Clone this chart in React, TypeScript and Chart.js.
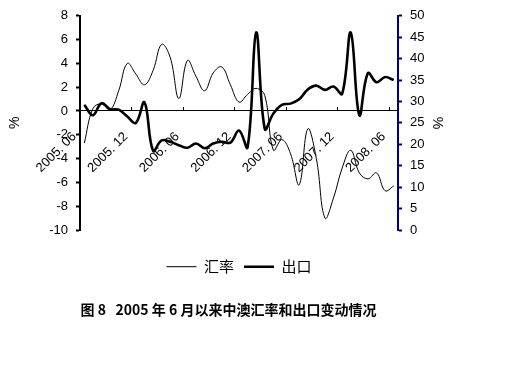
import React, { useEffect, useRef } from "react";
import { Chart, registerables } from "chart.js";

Chart.register(...registerables);

const categories = [
  "2005.06", "2005.07", "2005.08", "2005.09", "2005.10", "2005.11", "2005.12",
  "2006.01", "2006.02", "2006.03", "2006.04", "2006.05", "2006.06",
  "2006.07", "2006.08", "2006.09", "2006.10", "2006.11", "2006.12",
  "2007.01", "2007.02", "2007.03", "2007.04", "2007.05", "2007.06",
  "2007.07", "2007.08", "2007.09", "2007.10", "2007.11", "2007.12",
  "2008.01", "2008.02", "2008.03", "2008.04", "2008.05", "2008.06",
];

const shownTicks = ["2005.06", "2005.12", "2006.06", "2006.12", "2007.06", "2007.12", "2008.06"];

// 汇率 (left axis, %)
const rateValues = [
  -2.7, 0.2, 0.6, 0.1, 1.7, 4.0, 3.1, 2.2, 3.4, 5.6, 4.5, 1.05, 4.25,
  2.9, 1.7, 3.2, 3.7, 2.2, 0.75, 1.4, 1.9, 1.3, -3.3, -2.4, -3.6,
  -6.2, -1.5, -4.0, -9.0, -7.3, -4.8, -3.3, -5.2, -5.7, -5.2, -6.7, -6.3,
];

// 出口 (right axis, %)
const exportValues = [
  29.2, 26.8, 29.6, 28.2, 28.1, 26.5, 25.0, 29.8, 18.5, 20.9, 20.6, 19.8, 19.2,
  20.2, 19.1, 20.2, 20.6, 20.4, 23.2, 19.3, 46.1, 23.6, 27.2, 29.2, 29.5,
  30.5, 32.8, 33.7, 32.7, 33.5, 31.8, 46.1, 26.8, 36.6, 34.5, 35.7, 35.0,
];

const leftMin = -10;
const leftMax = 8;
const leftStep = 2;
const rightMin = 0;
const rightMax = 50;
const rightStep = 5;

const seriesNames = ["汇率", "出口"];
const caption = "图 8   2005 年 6 月以来中澳汇率和出口变动情况";

const latin = "'Liberation Sans', Arial, sans-serif";
const cjk = "'Noto Sans CJK SC', 'Liberation Sans', sans-serif";

export default function App() {
  const ref = useRef<HTMLCanvasElement | null>(null);

  useEffect(() => {
    if (!ref.current) return;
    const chart = new Chart(ref.current, {
      type: "line",
      data: {
        labels: categories,
        datasets: [
          {
            label: seriesNames[0],
            data: rateValues,
            yAxisID: "y",
            borderColor: "#000",
            backgroundColor: "#000",
            borderWidth: 1,
            pointRadius: 0,
            tension: 0.4,
            fill: false,
          },
          {
            label: seriesNames[1],
            data: exportValues,
            yAxisID: "y1",
            borderColor: "#000",
            backgroundColor: "#000",
            borderWidth: 2.6,
            pointRadius: 0,
            tension: 0.4,
            fill: false,
          },
        ],
      },
      options: {
        animation: false,
        responsive: false,
        maintainAspectRatio: false,
        layout: { padding: { left: 0, right: 55, top: 15, bottom: 0 } },
        scales: {
          x: {
            type: "category",
            position: { y: 0 } as any,
            offset: true,
            grid: {
              offset: true,
              drawOnChartArea: false,
              drawTicks: true,
              tickLength: -4,
              lineWidth: 1,
              color: (c: any) =>
                c.index !== undefined && c.index > 0 && c.index % 6 === 0 ? "#000" : "rgba(0,0,0,0)",
            },
            border: { display: true, color: "#000", width: 1 },
            ticks: {
              autoSkip: false,
              minRotation: 45,
              maxRotation: 45,
              padding: 22,
              labelOffset: -10,
              color: "#000",
              font: { family: latin, size: 13 },
              callback: (_v: any, i: number) => {
                const c = categories[i];
                return shownTicks.includes(c) ? c.replace(".", ". ") : "";
              },
            },
          },
          y: {
            position: "left",
            min: leftMin,
            max: leftMax,
            ticks: {
              stepSize: leftStep,
              color: "#000",
              padding: 8,
              font: { family: latin, size: 13 },
            },
            grid: {
              drawOnChartArea: false,
              drawTicks: true,
              tickLength: 4,
              tickWidth: 2,
              color: "#000",
            },
            border: { display: true, color: "#000", width: 2 },
            title: {
              display: true,
              text: "%",
              color: "#000",
              font: { family: latin, size: 14 },
              padding: { top: 7, bottom: 0 },
            },
            afterFit: (s: any) => {
              s.width = 80;
            },
          },
          y1: {
            position: "right",
            min: rightMin,
            max: rightMax,
            ticks: {
              stepSize: rightStep,
              color: "#000",
              padding: 8,
              font: { family: latin, size: 13 },
            },
            grid: {
              drawOnChartArea: false,
              drawTicks: true,
              tickLength: 4,
              tickWidth: 2,
              color: "#000080",
            },
            border: { display: true, color: "#000080", width: 2 },
            title: {
              display: true,
              text: "%",
              color: "#000",
              font: { family: latin, size: 14 },
              padding: { top: 12, bottom: 0 },
            },
            afterFit: (s: any) => {
              s.width = 59;
            },
          },
        },
        plugins: {
          legend: {
            display: true,
            position: "bottom",
            fullSize: false,
            title: { display: true, text: "", padding: { top: 0, bottom: 4.8 } },
            labels: {
              usePointStyle: true,
              pointStyle: "line",
              pointStyleWidth: 30,
              padding: 10,
              color: "#000",
              font: { family: cjk, size: 15 },
            },
          },
          title: {
            display: true,
            position: "bottom",
            text: caption,
            color: "#000",
            font: { family: cjk, size: 14, weight: "bold" },
            padding: { top: 17.4, bottom: 65.6 },
          },
          tooltip: { enabled: false },
        },
      },
    });
    return () => chart.destroy();
  }, []);

  return (
    <div style={{ position: "fixed", left: 0, top: 0, width: 512, height: 384, background: "#fff" }}>
      <canvas ref={ref} width={512} height={384} />
    </div>
  );
}
